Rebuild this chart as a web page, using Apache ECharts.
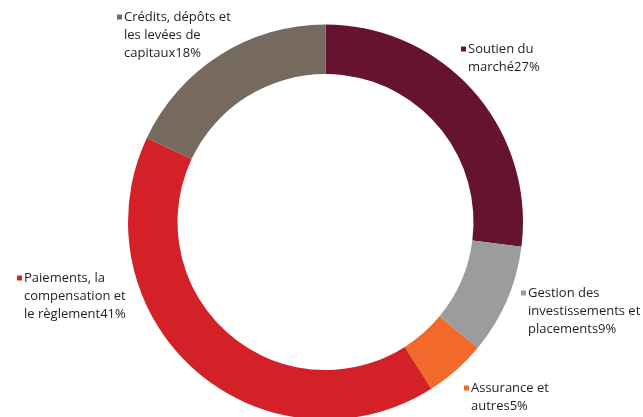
<!DOCTYPE html>
<html>
<head>
<meta charset="utf-8">
<script src="https://cdn.jsdelivr.net/npm/echarts@6/dist/echarts.min.js"></script>
<style>
  html, body { margin: 0; padding: 0; background: #fff; }
  #chart { width: 643px; height: 417px; }
</style>
</head>
<body>
<div id="chart"></div>
<script>
// Segments, clockwise from 12 o'clock
const categories = [
  'Soutien du marché',
  'Gestion des investissements et placements',
  'Assurance et autres',
  'Paiements, la compensation et le règlement',
  'Crédits, dépôts et les levées de capitaux'
];
const values = [27, 9, 5, 41, 18];
// Label text broken into lines (the value is appended to the last line)
const labelLines = [
  ['Soutien du', 'marché'],
  ['Gestion des', 'investissements et', 'placements'],
  ['Assurance et', 'autres'],
  ['Paiements, la', 'compensation et', 'le règlement'],
  ['Crédits, dépôts et', 'les levées de', 'capitaux']
];

const colors = ['#65132e', '#9b9c9e', '#f26a2b', '#d42128', '#76695d'];
// Top-left anchor of each label block
const labelPos = [[461, 40], [521, 284], [464, 379], [17, 269], [117, 8]];

const chart = echarts.init(document.getElementById('chart'), null, { renderer: 'canvas' });

function makeRich(i) {
  const rich = {
    t: { fontFamily: 'Open Sans', fontSize: 13, color: '#1e1e1e', lineHeight: 18 },
    sp: { width: 7, lineHeight: 18 }
  };
  rich['sq' + i] = { width: 5, height: 5, backgroundColor: colors[i] };
  rich.g = { width: 2 };
  return rich;
}

const richAll = {};
categories.forEach((c, i) => Object.assign(richAll, makeRich(i)));

chart.setOption({
  animation: false,
  color: colors,
  series: [{
    type: 'pie',
    radius: [148, 197.5],
    center: [325.5, 222],
    startAngle: 90,
    clockwise: true,
    avoidLabelOverlap: false,
    itemStyle: { borderWidth: 0 },
    emphasis: { disabled: true },
    labelLine: { show: false },
    label: {
      show: true,
      position: 'outside',
      align: 'left',
      verticalAlign: 'top',
      rich: richAll,
      formatter: function (p) {
        const i = p.dataIndex;
        const lines = labelLines[i].slice();
        lines[lines.length - 1] += p.value + '%';
        return lines.map(function (l, k) {
          return (k === 0 ? '{sq' + i + '|}{g|}' : '{sp|}') + '{t|' + l + '}';
        }).join('\n');
      }
    },
    labelLayout: function (params) {
      const pos = labelPos[params.dataIndex];
      return { x: pos[0], y: pos[1], align: 'left', verticalAlign: 'top' };
    },
    data: categories.map((c, i) => ({ name: c, value: values[i] }))
  }]
});
</script>
</body>
</html>
